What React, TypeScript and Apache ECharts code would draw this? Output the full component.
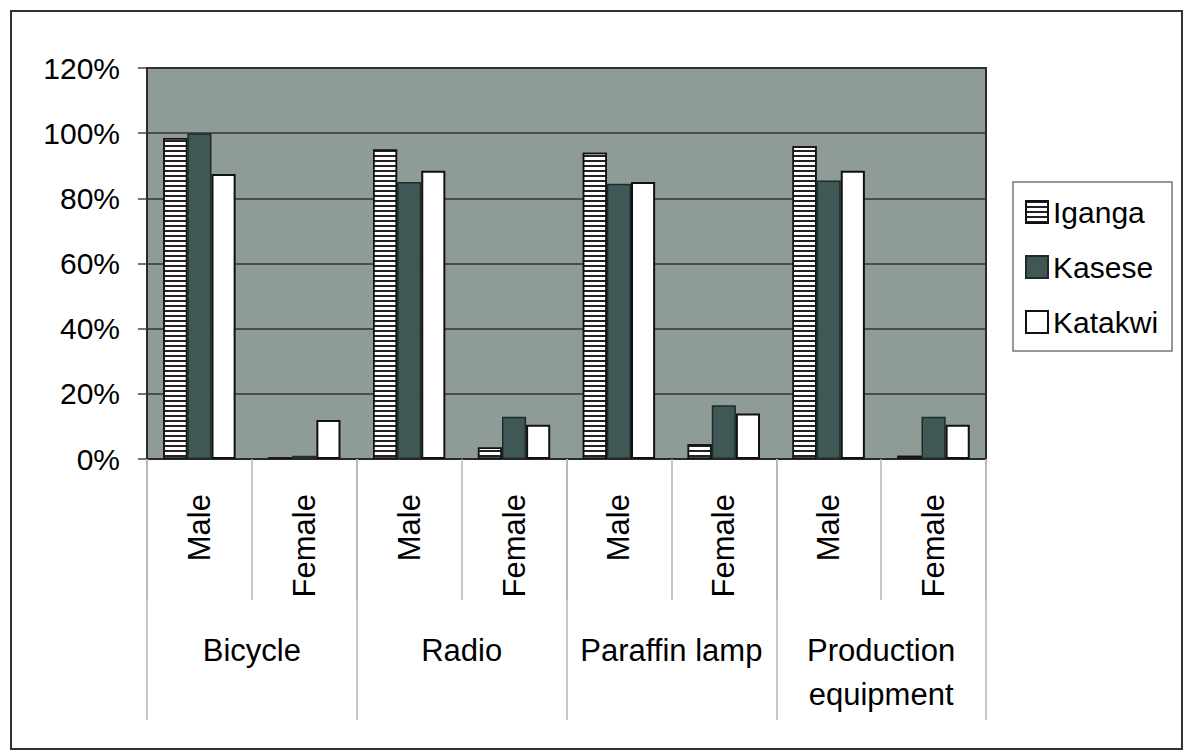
import React, { useEffect, useRef } from "react";
import * as echarts from "echarts";

const subCategories = ["Male", "Female", "Male", "Female", "Male", "Female", "Male", "Female"];
const groups = ["Bicycle", "Radio", "Paraffin lamp", "Production\nequipment"];
const yTicks = [0, 20, 40, 60, 80, 100, 120];

const iganga = [98.5, 0.5, 95, 3.5, 94, 4.5, 96, 1];
const kasese = [100, 1, 85, 13, 84.5, 16.5, 85.5, 13];
const katakwi = [87.5, 12, 88.5, 10.5, 85, 14, 88.5, 10.5];

const FONT = "'Liberation Sans', Arial, sans-serif";

export default function App() {
  const ref = useRef<HTMLDivElement>(null);
  useEffect(() => {
    document.body.style.margin = "0";
    const chart = echarts.init(ref.current!, null, { renderer: "svg" });
    chart.setOption({
      animation: false,
      backgroundColor: "#ffffff",
      textStyle: { fontFamily: FONT },
      grid: {
        left: 147,
        top: 68,
        right: 199,
        bottom: 294,
        show: true,
        backgroundColor: "#8e9b97",
        borderColor: "#2a2a2a",
        borderWidth: 2,
        containLabel: false,
      },
      legend: {
        orient: "vertical",
        left: 1013,
        top: 182,
        padding: [13, 14, 12, 12],
        itemWidth: 22,
        itemHeight: 22,
        itemGap: 21,
        icon: "rect",
        borderColor: "#777",
        borderWidth: 1.5,
        backgroundColor: "#fff",
        textStyle: { fontSize: 30, lineHeight: 34, color: "#000", fontFamily: FONT },
        data: ["Iganga", "Kasese", "Katakwi"],
      },
      xAxis: [
        {
          type: "category",
          data: subCategories,
          position: "bottom",
          offset: 0,
          axisLine: { show: true, lineStyle: { color: "#2a2a2a", width: 2 } },
          axisTick: {
            show: true,
            interval: 0,
            length: 141,
            lineStyle: { color: "#b5b5b5", width: 1.5 },
          },
          axisLabel: {
            interval: 0,
            rotate: 90,
            margin: 35,
            fontSize: 31,
            color: "#000",
            fontFamily: FONT,
          },
          splitLine: { show: false },
        },
        {
          type: "category",
          data: groups,
          position: "bottom",
          offset: 0,
          axisLine: { show: false },
          axisTick: {
            show: true,
            interval: 0,
            length: 261,
            lineStyle: { color: "#b5b5b5", width: 1.5 },
          },
          axisLabel: {
            interval: 0,
            margin: 169,
            fontSize: 31,
            lineHeight: 44,
            color: "#000",
            fontFamily: FONT,
          },
          splitLine: { show: false },
        },
      ],
      yAxis: {
        type: "value",
        min: yTicks[0],
        max: yTicks[yTicks.length - 1],
        interval: 20,
        axisLine: { show: true, lineStyle: { color: "#2a2a2a", width: 2 } },
        axisTick: { show: true, length: 9, lineStyle: { color: "#444", width: 1.5 } },
        axisLabel: {
          formatter: "{value}%",
          fontSize: 30,
          margin: 27,
          color: "#000",
          fontFamily: FONT,
        },
        splitLine: { show: true, lineStyle: { color: "#333", width: 1.5 } },
      },
      series: [
        {
          name: "Iganga",
          type: "bar",
          xAxisIndex: 0,
          data: iganga,
          barGap: "0%",
          barCategoryGap: "31%",
          itemStyle: {
            color: "#ffffff",
            borderColor: "#111",
            borderWidth: 1.5,
            decal: {
              symbol: "rect",
              symbolSize: 1,
              dashArrayX: [1, 0],
              dashArrayY: [2, 3],
              rotation: 0,
              color: "#222",
            },
          },
        },
        {
          name: "Kasese",
          type: "bar",
          xAxisIndex: 0,
          data: kasese,
          barGap: "0%",
          barCategoryGap: "31%",
          itemStyle: { color: "#3f5856", borderColor: "#1e2b2a", borderWidth: 1.5 },
        },
        {
          name: "Katakwi",
          type: "bar",
          xAxisIndex: 0,
          data: katakwi,
          barGap: "0%",
          barCategoryGap: "31%",
          itemStyle: { color: "#ffffff", borderColor: "#111", borderWidth: 2 },
        },
      ],
      graphic: [
        {
          type: "rect",
          shape: { x: 11, y: 11, width: 1171, height: 738 },
          style: { fill: "none", stroke: "#333", lineWidth: 2 },
          silent: true,
        },
      ],
    });
    return () => chart.dispose();
  }, []);
  return <div ref={ref} style={{ width: 1185, height: 753 }} />;
}
